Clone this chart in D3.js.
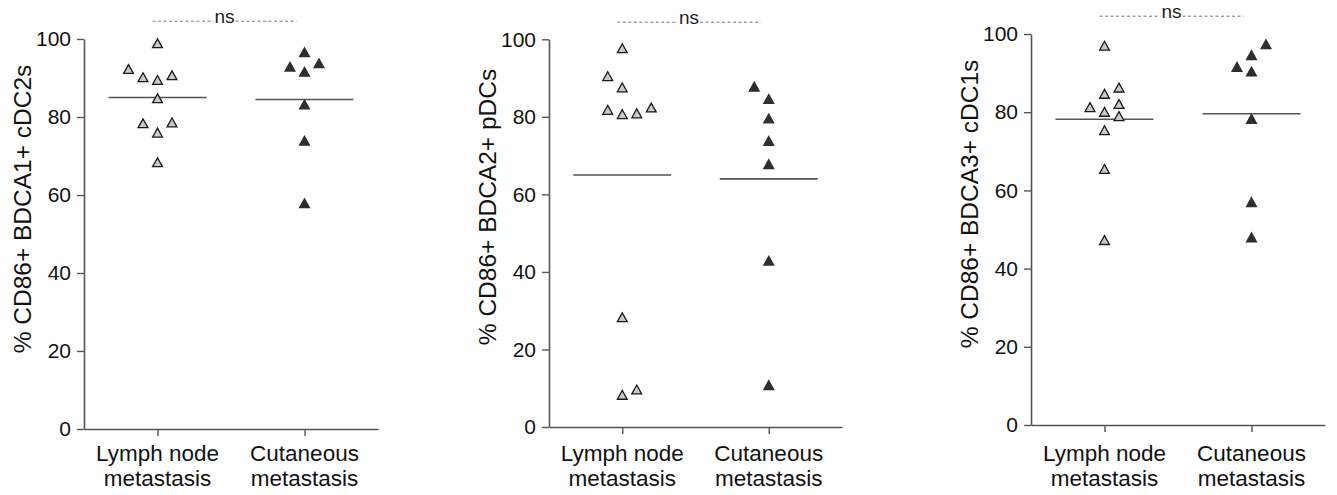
<!DOCTYPE html>
<html>
<head>
<meta charset="utf-8">
<script src="https://cdn.jsdelivr.net/npm/d3@7"></script>
<style>
  html, body { margin: 0; padding: 0; background: #fff; }
  svg { display: block; font-family: "Liberation Sans", Arial, sans-serif; }
</style>
</head>
<body>
<svg id="chart" width="1337" height="495"></svg>
<script>
// ---------- data ----------
const categories = ["Lymph node metastasis", "Cutaneous metastasis"];
const categoryLines = [["Lymph node", "metastasis"], ["Cutaneous", "metastasis"]];
const yTitles = ["% CD86+ BDCA1+ cDC2s", "% CD86+ BDCA2+ pDCs", "% CD86+ BDCA3+ cDC1s"];
const yTicks = [0, 20, 40, 60, 80, 100];
const sigLabel = "ns";

// panel 1: cDC2s
const cdc2Lymph = [98.9, 92.3, 90.2, 89.5, 90.7, 84.8, 78.4, 78.6, 76.0, 68.4];
const cdc2LymphSlot = [0, -2, -1, 0, 1, 0, -1, 1, 0, 0];
const cdc2Cut = [96.6, 92.9, 93.8, 91.6, 83.2, 73.9, 57.9];
const cdc2CutSlot = [0, -1, 1, 0, 0, 0, 0];
const cdc2Means = [85.0, 84.5];

// panel 2: pDCs
const pdcLymph = [97.7, 90.5, 87.6, 81.8, 80.7, 80.9, 82.4, 28.3, 8.3, 9.7];
const pdcLymphSlot = [0, -1, 0, -1, 0, 1, 2, 0, 0, 1];
const pdcCut = [87.8, 84.6, 79.6, 73.8, 67.8, 42.9, 10.8];
const pdcCutSlot = [-1, 0, 0, 0, 0, 0, 0];
const pdcMeans = [65.0, 64.0];

// panel 3: cDC1s
const cdc1Lymph = [97.0, 86.3, 84.7, 81.3, 82.1, 80.1, 79.0, 75.4, 65.5, 47.3];
const cdc1LymphSlot = [0, 1, 0, -1, 1, 0, 1, 0, 0, 0];
const cdc1Cut = [97.4, 94.6, 91.6, 90.4, 78.3, 57.0, 48.0];
const cdc1CutSlot = [1, 0, -1, 0, 0, 0, 0];
const cdc1Means = [78.2, 79.6];

// ---------- layout ----------
const panels = [
  { left: 84,   right: 378,  top: 39,   bottom: 429, sigY: 20.7, title: yTitles[0], titleCY: 209,
    groups: [[cdc2Lymph, cdc2LymphSlot], [cdc2Cut, cdc2CutSlot]], means: cdc2Means },
  { left: 549,  right: 842,  top: 39.3, bottom: 427, sigY: 21.7, title: yTitles[1], titleCY: 207,
    groups: [[pdcLymph, pdcLymphSlot], [pdcCut, pdcCutSlot]], means: pdcMeans },
  { left: 1031, right: 1325, top: 34,   bottom: 425, sigY: 15.7, title: yTitles[2], titleCY: 204,
    groups: [[cdc1Lymph, cdc1LymphSlot], [cdc1Cut, cdc1CutSlot]], means: cdc1Means }
];

const axisColor = "#555";
const slotWidth = 14.5;
const meanHalf = 49;

// triangle symbol centred on its bounding box
const triangle = {
  draw(ctx, size) {
    const w = Math.sqrt(size) * 1.1;
    const h = w * 0.9;
    ctx.moveTo(0, -h / 2);
    ctx.lineTo(w / 2, h / 2);
    ctx.lineTo(-w / 2, h / 2);
    ctx.closePath();
  }
};

const svg = d3.select("#chart");

panels.forEach((p) => {
  const g = svg.append("g");
  const y = d3.scaleLinear().domain([0, 100]).range([p.bottom, p.top]);
  const x = d3.scalePoint().domain(categories).range([p.left, p.right]).padding(0.5);
  const slot = d3.scaleLinear().domain([0, 1]).range([0, slotWidth]);

  // y axis
  const yAxis = g.append("g")
    .attr("transform", `translate(${p.left},0)`)
    .call(d3.axisLeft(y).tickValues(yTicks).tickSize(7).tickPadding(6).tickSizeOuter(0));
  yAxis.select(".domain").attr("stroke", axisColor).attr("stroke-width", 1.6);
  yAxis.selectAll(".tick line").attr("stroke", axisColor).attr("stroke-width", 1.4);
  yAxis.selectAll(".tick text").attr("font-size", 21).attr("fill", "#111")
    .attr("font-family", "'Liberation Sans', Arial, sans-serif");

  // x axis
  const xAxis = g.append("g")
    .attr("transform", `translate(0,${p.bottom})`)
    .call(d3.axisBottom(x).tickSize(7).tickSizeOuter(0).tickFormat(""));
  xAxis.select(".domain").attr("stroke", axisColor).attr("stroke-width", 1.6);
  xAxis.selectAll(".tick line").attr("stroke", axisColor).attr("stroke-width", 1.4);

  // category labels (two lines)
  categories.forEach((c, i) => {
    const t = g.append("text")
      .attr("x", x(c))
      .attr("text-anchor", "middle")
      .attr("font-size", 22.5)
      .attr("fill", "#111");
    categoryLines[i].forEach((line, j) => {
      t.append("tspan").attr("x", x(c)).attr("y", 461 + j * 25).text(line);
    });
  });

  // y title
  g.append("text")
    .attr("transform", `translate(${p.left - 53},${p.titleCY}) rotate(-90)`)
    .attr("text-anchor", "middle")
    .attr("font-size", 24.5)
    .attr("fill", "#111")
    .text(p.title);

  // mean lines
  categories.forEach((c, i) => {
    g.append("line")
      .attr("x1", x(c) - meanHalf).attr("x2", x(c) + meanHalf)
      .attr("y1", y(p.means[i])).attr("y2", y(p.means[i]))
      .attr("stroke", "#555").attr("stroke-width", 1.6);
  });

  // points
  const sym = d3.symbol().type(triangle).size(80);
  p.groups.forEach(([vals, slots], gi) => {
    const c = categories[gi];
    g.selectAll(null)
      .data(vals.map((v, k) => ({ v, s: slots[k] })))
      .join("path")
      .attr("d", sym)
      .attr("transform", d => `translate(${x(c) + slot(d.s)},${y(d.v)})`)
      .attr("fill", gi === 0 ? "#c9c9c9" : "#2e2e2e")
      .attr("stroke", gi === 0 ? "#1a1a1a" : "#2e2e2e")
      .attr("stroke-width", 1.3)
      .attr("stroke-linejoin", "miter");
  });

  // significance bracket
  const x1 = x(categories[0]) - 5, x2 = x(categories[1]) - 8;
  const cx = (x1 + x2) / 2;
  const ns = g.append("text")
    .attr("x", cx).attr("y", p.sigY + 2)
    .attr("text-anchor", "middle")
    .attr("font-size", 19)
    .attr("fill", "#222")
    .text(sigLabel);
  const tw = ns.node().getComputedTextLength();
  [[x1, cx - tw / 2 - 1], [cx + tw / 2 + 1, x2]].forEach(([a, b]) => {
    g.append("line")
      .attr("x1", a).attr("x2", b)
      .attr("y1", p.sigY + 0.5).attr("y2", p.sigY + 0.5)
      .attr("stroke", "#777").attr("stroke-width", 1)
      .attr("stroke-dasharray", "3,2.5");
  });
});
</script>
</body>
</html>
